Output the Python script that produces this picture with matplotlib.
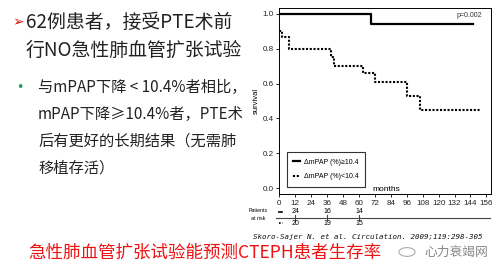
import numpy as np
import matplotlib
matplotlib.use('Agg')
import matplotlib.pyplot as plt
from matplotlib.patches import Circle

plt.rcParams['font.family'] = ['Noto Sans CJK SC', 'DejaVu Sans']

# survival curves (months, survival fraction)
hi_months = [0, 69, 146]
hi_surv = [1.0, 0.94, 0.94]
lo_months = [0, 2, 7.5, 39, 41, 63, 72, 96, 106, 152]
lo_surv = [0.90, 0.87, 0.80, 0.75, 0.70, 0.66, 0.61, 0.53, 0.45, 0.45]

# patients at risk
risk_months = [12, 36, 60]
risk_hi = [24, 16, 14]
risk_lo = [20, 19, 15]

xticks = np.arange(0, 157, 12)
yticks = [0.0, 0.2, 0.4, 0.6, 0.8, 1.0]

legend_labels = [u'\u0394mPAP (%)\u226510.4', u'\u0394mPAP (%)<10.4']

title_lines = [u'62例患者，接受PTE术前', u'行NO急性肺血管扩张试验']
bullet_lines = [u'与mPAP下降 < 10.4%者相比，', u'mPAP下降≥10.4%者，PTE术',
                u'后有更好的长期结果（无需肺', u'移植存活）']
bottom_title = u'急性肺血管扩张试验能预测CTEPH患者生存率'
citation = 'Skoro-Sajer N. et al. Circulation. 2009;119:298-305'

W, H = 501, 273
fig = plt.figure(figsize=(W / 100, H / 100), dpi=100)

def fx(px):
    return px / W

def fy(py):
    return 1 - py / H

# left text block
fig.text(fx(12), fy(22), u'\u27a2', color='#e01010', fontsize=10,
         family='DejaVu Sans', ha='left', va='center')
for i, s in enumerate(title_lines):
    fig.text(fx(26), fy(22 + 28 * i), s, fontsize=13.6, color='#222222',
             ha='left', va='center')
fig.text(fx(20), fy(87), u'\u2022', color='#1a9e5a', fontsize=9,
         family='DejaVu Sans', ha='center', va='center')
for i, s in enumerate(bullet_lines):
    fig.text(fx(38), fy(87 + 27 * i), s, fontsize=11, color='#222222',
             ha='left', va='center')

# chart
ax = fig.add_axes([fx(279), fy(194), fx(491) - fx(279), fy(8) - fy(194)])
ax.step(hi_months, hi_surv, where='post', color='black', lw=1.6,
        label=legend_labels[0])
ax.step(lo_months, lo_surv, where='post', color='black', lw=1.5,
        linestyle=(0, (1, 0.8)), label=legend_labels[1])
ax.set_xlim(-0.3, 159.5)
ax.set_ylim(-0.034, 1.034)
ax.set_xticks(xticks)
ax.set_yticks(yticks)
ax.set_yticklabels(['%.1f' % v for v in yticks])
ax.tick_params(labelsize=5.8, length=2.5, width=0.7, pad=1.5, colors='#222222')
for sp in ax.spines.values():
    sp.set_linewidth(0.7)
ax.set_ylabel('survival', fontsize=5.5, labelpad=2, family='Liberation Sans')
for lab in ax.get_xticklabels() + ax.get_yticklabels():
    lab.set_family('Liberation Sans')

ax.text(143, 0.99, 'p=0.002', fontsize=5, ha='center', va='center',
        family='Liberation Sans', color='#333333')
ax.text(0.505, 0.022, 'months', transform=ax.transAxes, fontsize=6,
        ha='center', va='center', family='Liberation Sans')

leg = ax.legend(loc='lower left', bbox_to_anchor=(0.036, 0.04),
                borderaxespad=0, fontsize=5, handlelength=1.0,
                labelspacing=1.1, borderpad=0.9, fancybox=False,
                edgecolor='#333333', framealpha=1, handletextpad=0.6)
leg.get_frame().set_linewidth(0.8)
for t in leg.get_texts():
    t.set_family('Liberation Sans')

# patients at risk table
tr = ax.get_xaxis_transform()
ax.plot([-2.5, 158.5], [-0.127, -0.127], transform=tr, color='#444444',
        lw=0.8, clip_on=False)
for m, a, b in zip(risk_months, risk_hi, risk_lo):
    ax.plot([m, m], [-0.142, -0.112], transform=tr, color='#444444',
            lw=0.8, clip_on=False)
    ax.text(m, -0.095, str(a), transform=tr, fontsize=5, ha='center',
            va='center', family='Liberation Sans', clip_on=False)
    ax.text(m, -0.160, str(b), transform=tr, fontsize=5, ha='center',
            va='center', family='Liberation Sans', clip_on=False)
ax.plot([0, 2], [-0.097, -0.097], transform=tr, color='black', lw=1.2,
        clip_on=False)
ax.plot([-0.5, 3], [-0.158, -0.158], transform=tr, color='black', lw=1.2,
        linestyle=(0, (1, 1.2)), clip_on=False)
fig.text(fx(258), fy(211), 'Patients', fontsize=3.8, ha='center',
         va='center', family='Liberation Sans')
fig.text(fx(258), fy(218), 'at risk', fontsize=3.8, ha='center',
         va='center', family='Liberation Sans')

# citation
fig.text(fx(253), fy(237), citation, fontsize=5.4, family='DejaVu Sans Mono',
         style='italic', ha='left', va='center', color='#111111')

# bottom red title
fig.text(fx(28), fy(253), bottom_title, fontsize=12.6, color='#ee1111',
         ha='left', va='center')

# watermark
fig.patches.append(Circle((fx(407), fy(252)), 0.016, transform=fig.transFigure,
                          fill=False, edgecolor='#aaaaaa', lw=0.8))
fig.text(fx(424), fy(252), u'心力衰竭网', fontsize=9.2, color='#888888',
         ha='left', va='center')

fig.savefig('out.png', dpi=100)
